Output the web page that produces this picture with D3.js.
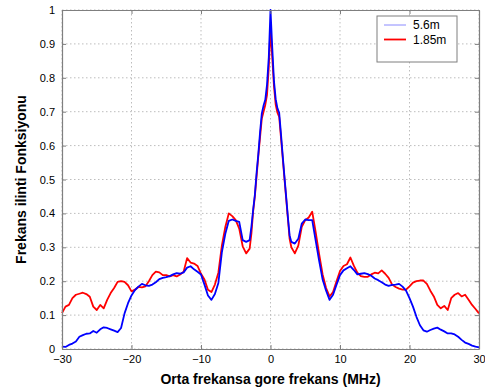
<!DOCTYPE html>
<html>
<head>
<meta charset="utf-8">
<script src="https://cdn.jsdelivr.net/npm/d3@7/dist/d3.min.js"></script>
<style>
  html, body { margin: 0; padding: 0; background: #fff; }
  svg { display: block; font-family: "Liberation Sans", Arial, Helvetica, sans-serif; }
</style>
</head>
<body>
<svg id="chart" width="485" height="392"></svg>
<script>
// Frequency offsets from the centre frequency (MHz)
const freq = [
  -30, -29.5, -29, -28.5, -28, -27.5, -27, -26.5, -26, -25.5, -25, -24.5, -24, -23.5, -23, -22.5,
  -22, -21.5, -21, -20.5, -20, -19.5, -19, -18.5, -18, -17.5, -17, -16.5, -16, -15.5, -15, -14.5,
  -14, -13.5, -13, -12.5, -12, -11.5, -11, -10.5, -10, -9.5, -9, -8.5, -8, -7.5, -7, -6.5,
  -6, -5.5, -5, -4.5, -4, -3.5,
  -3, -2.75, -2.5, -2.25, -2, -1.75, -1.5, -1.25, -1, -0.75, -0.5, -0.25, 0,
  0.25, 0.5, 0.75, 1, 1.25, 1.5, 1.75, 2, 2.25, 2.5, 2.75, 3,
  3.5, 4, 4.5, 5, 5.5, 6, 6.5, 7, 7.5, 8, 8.5, 9, 9.5, 10, 10.5,
  11, 11.5, 12, 12.5, 13, 13.5, 14, 14.5, 15, 15.5, 16, 16.5, 17, 17.5, 18, 18.5,
  19, 19.5, 20, 20.5, 21, 21.5, 22, 22.5, 23, 23.5, 24, 24.5, 25, 25.5, 26, 26.5,
  27, 27.5, 28, 28.5, 29, 29.5, 30
];

// Correlation function, 5.6 m separation
const corr56 = [
  0.007, 0.006, 0.012, 0.016, 0.022, 0.036, 0.041, 0.045, 0.046, 0.053, 0.048, 0.058, 0.064, 0.062, 0.058, 0.054,
  0.05, 0.062, 0.105, 0.135, 0.158, 0.174, 0.184, 0.192, 0.188, 0.186, 0.19, 0.197, 0.206, 0.21, 0.212, 0.215,
  0.22, 0.224, 0.222, 0.226, 0.24, 0.244, 0.235, 0.228, 0.22, 0.19, 0.158, 0.145, 0.162, 0.195, 0.285, 0.34,
  0.378, 0.382, 0.378, 0.375, 0.321, 0.316,
  0.321, 0.36, 0.41, 0.455, 0.52, 0.575, 0.64, 0.695, 0.718, 0.735, 0.78, 0.86, 1.0,
  0.89, 0.79, 0.737, 0.71, 0.697, 0.636, 0.572, 0.51, 0.45, 0.39, 0.335, 0.316,
  0.311, 0.325, 0.37, 0.382, 0.38, 0.38, 0.32, 0.26, 0.205, 0.172, 0.145, 0.16, 0.19, 0.218, 0.232,
  0.238, 0.244, 0.233, 0.22, 0.222, 0.224, 0.221, 0.216, 0.208, 0.203, 0.197, 0.19, 0.186, 0.189, 0.19, 0.192,
  0.184, 0.172, 0.15, 0.125, 0.095, 0.07, 0.055, 0.051, 0.056, 0.06, 0.063, 0.057, 0.052, 0.046, 0.046, 0.043,
  0.036, 0.027, 0.019, 0.015, 0.01, 0.007, 0.005
];

// Correlation function, 1.85 m separation
const corr185 = [
  0.106, 0.125, 0.13, 0.15, 0.16, 0.163, 0.166, 0.162, 0.154, 0.125, 0.115, 0.13, 0.12, 0.145, 0.165, 0.18,
  0.198, 0.2, 0.198, 0.188, 0.17, 0.175, 0.183, 0.182, 0.185, 0.2, 0.218, 0.228, 0.226, 0.218, 0.218, 0.214,
  0.218, 0.214, 0.22, 0.228, 0.268, 0.255, 0.252, 0.245, 0.222, 0.205, 0.175, 0.168, 0.19, 0.225, 0.305, 0.36,
  0.4, 0.392, 0.38, 0.355, 0.303, 0.282,
  0.296, 0.34, 0.405, 0.45, 0.51, 0.57, 0.625, 0.68, 0.7, 0.72, 0.75, 0.83, 0.95,
  0.86, 0.775, 0.72, 0.697, 0.685, 0.625, 0.565, 0.505, 0.445, 0.385, 0.325, 0.3,
  0.282, 0.305, 0.36, 0.38, 0.388, 0.405, 0.345, 0.28, 0.22, 0.18, 0.155, 0.168, 0.2, 0.23, 0.245,
  0.25, 0.27, 0.245, 0.225, 0.215, 0.213, 0.213, 0.22, 0.225, 0.223, 0.232, 0.222, 0.21, 0.19, 0.183, 0.178,
  0.175, 0.175, 0.185, 0.196, 0.2, 0.202, 0.202, 0.192, 0.172, 0.155, 0.13, 0.12, 0.127, 0.115, 0.15, 0.16,
  0.165, 0.155, 0.16, 0.145, 0.13, 0.118, 0.105
];

const seriesNames = ["5.6m", "1.85m"];
const seriesColors = ["#0000ff", "#ff0000"];

const xTicks = [-30, -20, -10, 0, 10, 20, 30];
const yTicks = [0, 0.1, 0.2, 0.3, 0.4, 0.5, 0.6, 0.7, 0.8, 0.9, 1];

const xTitle = "Orta frekansa gore frekans (MHz)";
const yTitle = "Frekans ilinti Fonksiyonu";

const svg = d3.select("#chart");
const m = { left: 62, right: 6, top: 10, bottom: 43 };
const W = 485, H = 392;
const pw = W - m.left - m.right, ph = H - m.top - m.bottom;

const x = d3.scaleLinear().domain([-30, 30]).range([m.left, m.left + pw]);
const y = d3.scaleLinear().domain([0, 1]).range([m.top + ph, m.top]);

const axisColor = "#7f7f7f";
const fmt = d => (d === 0 || d === 1) ? String(d) : d3.format(".1f")(d);

// grid
const grid = svg.append("g");
grid.selectAll("line.gx").data(xTicks).enter().append("line")
  .attr("x1", d => x(d)).attr("x2", d => x(d))
  .attr("y1", m.top).attr("y2", m.top + ph)
  .attr("stroke", "#bdbdbd").attr("stroke-width", 1).attr("stroke-dasharray", "1.5,2.5");
grid.selectAll("line.gy").data(yTicks).enter().append("line")
  .attr("y1", d => y(d)).attr("y2", d => y(d))
  .attr("x1", m.left).attr("x2", m.left + pw)
  .attr("stroke", "#bdbdbd").attr("stroke-width", 1).attr("stroke-dasharray", "1.5,2.5");

// data lines (1.85 m under 5.6 m)
const line = d3.line().x((d, i) => x(freq[i])).y(d => y(d));
svg.append("path").datum(corr185).attr("d", line)
  .attr("fill", "none").attr("stroke", seriesColors[1]).attr("stroke-width", 1.8)
  .attr("stroke-linejoin", "round");
svg.append("path").datum(corr56).attr("d", line)
  .attr("fill", "none").attr("stroke", seriesColors[0]).attr("stroke-width", 1.8)
  .attr("stroke-linejoin", "round");

// axes with inward ticks on all four sides
const tl = 4;
const xb = svg.append("g").attr("transform", `translate(0,${m.top + ph})`)
  .call(d3.axisBottom(x).tickValues(xTicks).tickSizeInner(-tl).tickSizeOuter(0).tickPadding(6).tickFormat(d3.format("d")));
const xt = svg.append("g").attr("transform", `translate(0,${m.top})`)
  .call(d3.axisTop(x).tickValues(xTicks).tickSizeInner(-tl).tickSizeOuter(0).tickFormat(""));
const yl = svg.append("g").attr("transform", `translate(${m.left},0)`)
  .call(d3.axisLeft(y).tickValues(yTicks).tickSizeInner(-tl).tickSizeOuter(0).tickPadding(7).tickFormat(fmt));
const yr = svg.append("g").attr("transform", `translate(${m.left + pw},0)`)
  .call(d3.axisRight(y).tickValues(yTicks).tickSizeInner(-tl).tickSizeOuter(0).tickFormat(""));
[xb, xt, yl, yr].forEach(g => {
  g.selectAll(".domain").attr("stroke", axisColor).attr("stroke-width", 1.2);
  g.selectAll(".tick line").attr("stroke", axisColor);
  g.selectAll("text").attr("font-family", "Liberation Sans, Arial, sans-serif")
    .attr("font-size", 11).attr("fill", "#000");
});

// axis titles
svg.append("text").attr("x", x(0)).attr("y", 384).attr("text-anchor", "middle")
  .attr("font-size", 14).attr("font-weight", "bold").text(xTitle);
svg.append("text").attr("transform", `translate(26,${m.top + ph / 2}) rotate(-90)`)
  .attr("text-anchor", "middle").attr("font-size", 14).attr("font-weight", "bold").text(yTitle);

// legend
const lg = svg.append("g").attr("transform", "translate(377,16)");
lg.append("rect").attr("width", 80).attr("height", 46)
  .attr("fill", "#fff").attr("stroke", axisColor).attr("stroke-width", 1);
const legendColors = ["#8a8aff", "#ff0000"];
const legendWidths = [1, 1.8];
seriesNames.forEach((name, i) => {
  const yy = 9 + i * 14.5;
  lg.append("line").attr("x1", 7).attr("x2", 29).attr("y1", yy).attr("y2", yy)
    .attr("stroke", legendColors[i]).attr("stroke-width", legendWidths[i]);
  lg.append("text").attr("x", 36).attr("y", yy + 4).attr("font-size", 12).text(name);
});
</script>
</body>
</html>
